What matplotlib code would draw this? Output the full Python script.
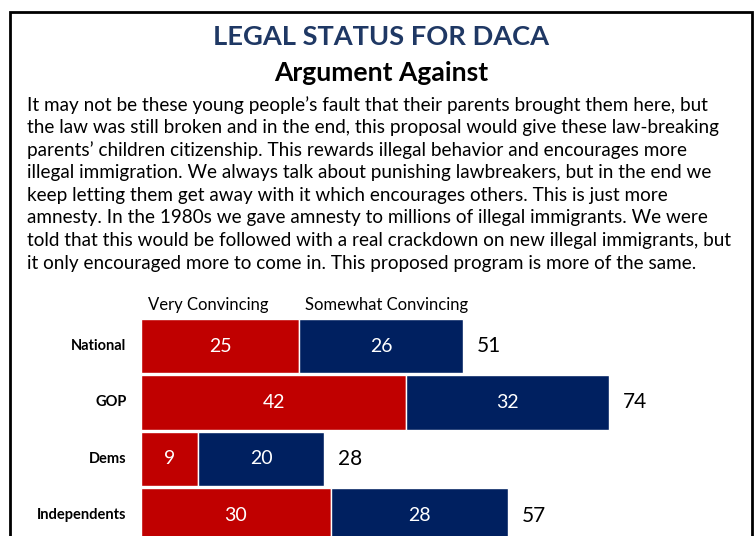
import matplotlib
matplotlib.use("Agg")
import matplotlib.pyplot as plt
from matplotlib.patches import Rectangle

categories = ["National", "GOP", "Dems", "Independents"]
very = [25, 42, 9, 30]
somewhat = [26, 32, 20, 28]
totals = [51, 74, 28, 57]
series_names = ["Very Convincing", "Somewhat Convincing"]

title = "LEGAL STATUS FOR DACA"
subtitle = "Argument Against"
paragraph = [
    "It may not be these young people\u2019s fault that their parents brought them here, but",
    "the law was still broken and in the end, this proposal would give these law-breaking",
    "parents\u2019 children citizenship. This rewards illegal behavior and encourages more",
    "illegal immigration. We always talk about punishing lawbreakers, but in the end we",
    "keep letting them get away with it which encourages others. This is just more",
    "amnesty. In the 1980s we gave amnesty to millions of illegal immigrants. We were",
    "told that this would be followed with a real crackdown on new illegal immigrants, but",
    "it only encouraged more to come in. This proposed program is more of the same.",
]

RED = "#C00000"
BLUE = "#002060"
FONT = ["Lato", "DejaVu Sans"]
W, H = 755, 536
fig = plt.figure(figsize=(W / 100, H / 100), dpi=100)
fig.patch.set_facecolor("white")

def px(x, y):
    return x / W, 1 - y / H

# border
fig.patches.append(Rectangle(px(10, 536 + 5), (752 - 10) / W, (536 + 5 - 12) / H,
                             transform=fig.transFigure, fill=False, edgecolor="black",
                             linewidth=2, zorder=0))

renderer = fig.canvas.get_renderer()

def fit_text(x, y, s, target_w, size, **kw):
    t = fig.text(*px(x, y), s, fontsize=size, family=FONT, **kw)
    w = t.get_window_extent(renderer).width
    t.set_fontsize(size * target_w / w)
    return t

fit_text(381, 37, title, 336, 20, color="#1F3864", fontweight="bold", ha="center", va="center")
fit_text(381, 73, subtitle, 215, 16, color="black", fontweight="bold", ha="center", va="center")

# paragraph
tp = fig.text(*px(27, 105), paragraph[6], fontsize=12, family=FONT, ha="left", va="center")
w = tp.get_window_extent(renderer).width
psize = 12 * (726 - 27) / w
tp.remove()
for i, line in enumerate(paragraph):
    fig.text(*px(27, 105 + i * 22.6), line, fontsize=psize, family=FONT,
             ha="left", va="center", color="black")

# chart axes
x0 = 141
scale = 6.32
top_px, bot_px = 290, 536
ax = fig.add_axes([x0 / W, 0, (W - x0) / W, (bot_px - top_px) / H])
ax.set_xlim(0, (W - x0) / scale)
c0, pitch = 346, 56.5
ax.set_ylim((bot_px - c0) / pitch, (top_px - c0) / pitch)
ax.axis("off")

ypos = list(range(len(categories)))
bh = 0.965
ax.barh(ypos, very, height=bh, color=RED, edgecolor="white", linewidth=1)
ax.barh(ypos, somewhat, left=very, height=bh, color=BLUE, edgecolor="white", linewidth=1)

for i, cat in enumerate(categories):
    ax.text(-2.3, i, cat, ha="right", va="center", fontsize=10.5, fontweight="bold",
            family=FONT, color="black")
    ax.text(very[i] / 2, i, str(very[i]), ha="center", va="center", color="white",
            fontsize=14, family=FONT)
    ax.text(very[i] + somewhat[i] / 2, i, str(somewhat[i]), ha="center", va="center",
            color="white", fontsize=14, family=FONT)
    ax.text(very[i] + somewhat[i] + 2.2, i, str(totals[i]), ha="left", va="center",
            color="black", fontsize=15, family=FONT)

ax.text(1.1, (305 - c0) / pitch, series_names[0], ha="left", va="center", fontsize=12,
        family=FONT, color="black")
ax.text(very[0] + 1.0, (305 - c0) / pitch, series_names[1], ha="left", va="center",
        fontsize=12, family=FONT, color="black")

fig.savefig("out.png", dpi=100, facecolor="white")
